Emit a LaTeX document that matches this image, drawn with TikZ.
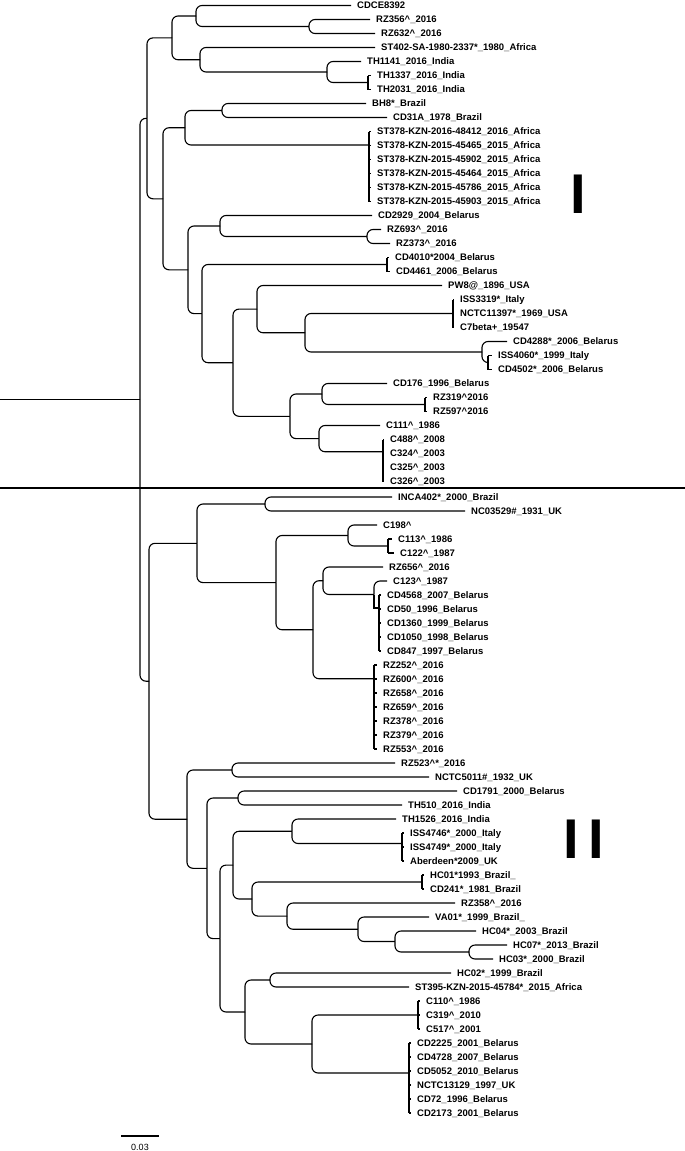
\documentclass[tikz,border=0pt]{standalone}
\usepackage{fontspec}
\setmainfont{Liberation Sans}
\usetikzlibrary{calc}
\newcommand{\caret}{\textasciicircum}
\tikzset{
	br/.style={line width=1.1pt, rounded corners=6pt},
	tw/.style={line width=1.1pt},
	tip/.style={anchor=west, inner xsep=6pt, inner ysep=0pt, text height=7.3pt, text depth=0.5pt,
		font=\fontsize{9.5}{10}\selectfont\bfseries},
	clade/.style={inner sep=0pt, text height=40pt, text depth=0pt, font=\fontsize{56}{56}\selectfont\bfseries}
}
\begin{document}
\begin{tikzpicture}[x=1pt, y=-1pt]
	\useasboundingbox (0,0) rectangle (685,1151);
	% leaves of clade I
	\foreach \nm/\xe/\lab [count=\i from 0] in {
		cdce/351/CDCE8392, rz356/370/RZ356\caret\_2016, rz632/375/RZ632\caret\_2016,
		st402/375/ST402-SA-1980-2337*\_1980\_Africa, th1141/361/TH1141\_2016\_India,
		th1337/371/TH1337\_2016\_India, th2031/371/TH2031\_2016\_India,
		bh8/366/BH8*\_Brazil, cd31a/387/CD31A\_1978\_Brazil,
		st48412/371/ST378-KZN-2016-48412\_2016\_Africa, st45465/371/ST378-KZN-2015-45465\_2015\_Africa,
		st45902/371/ST378-KZN-2015-45902\_2015\_Africa, st45464/371/ST378-KZN-2015-45464\_2015\_Africa,
		st45786/371/ST378-KZN-2015-45786\_2015\_Africa, st45903/371/ST378-KZN-2015-45903\_2015\_Africa,
		cd2929/372/CD2929\_2004\_Belarus, rz693/381/RZ693\caret\_2016, rz373/390/RZ373\caret\_2016,
		cd4010/389/CD4010*2004\_Belarus, cd4461/390/CD4461\_2006\_Belarus,
		pw8/442/PW8@\_1896\_USA, iss3319/454/ISS3319*\_Italy, nctc11397/454/NCTC11397*\_1969\_USA,
		c7beta/454/C7beta+\_19547, cd4288/507/CD4288*\_2006\_Belarus,
		iss4060/492/ISS4060*\_1999\_Italy, cd4502/492/CD4502*\_2006\_Belarus,
		cd176/387/CD176\_1996\_Belarus, rz319/427/RZ319\caret2016, rz597/427/RZ597\caret2016,
		c111/380/C111\caret\_1986, c488/384/C488\caret\_2008, c324/384/C324\caret\_2003,
		c325/384/C325\caret\_2003, c326/384/C326\caret\_2003}
		\node[tip] (\nm) at (\xe,{5.5+14*\i}) {\lab};
	% leaves of clade II
	\foreach \nm/\xe/\lab [count=\i from 0] in {
		inca402/392/INCA402*\_2000\_Brazil, nc03529/465/NC03529\#\_1931\_UK,
		c198/377/C198\caret, c113/392/C113\caret\_1986, c122/394/C122\caret\_1987,
		rz656/383/RZ656\caret\_2016, c123/387/C123\caret\_1987,
		cd4568/381/CD4568\_2007\_Belarus, cd50/381/CD50\_1996\_Belarus, cd1360/381/CD1360\_1999\_Belarus,
		cd1050/381/CD1050\_1998\_Belarus, cd847/381/CD847\_1997\_Belarus,
		rz252/377/RZ252\caret\_2016, rz600/377/RZ600\caret\_2016, rz658/377/RZ658\caret\_2016,
		rz659/377/RZ659\caret\_2016, rz378/377/RZ378\caret\_2016, rz379/377/RZ379\caret\_2016,
		rz553/377/RZ553\caret\_2016, rz523/395/RZ523\caret*\_2016, nctc5011/429/NCTC5011\#\_1932\_UK,
		cd1791/457/CD1791\_2000\_Belarus, th510/402/TH510\_2016\_India, th1526/396/TH1526\_2016\_India,
		iss4746/404/ISS4746*\_2000\_Italy, iss4749/404/ISS4749*\_2000\_Italy, aberdeen/404/Aberdeen*2009\_UK,
		hc01/424/HC01*1993\_Brazil\_, cd241/424/CD241*\_1981\_Brazil, rz358/455/RZ358\caret\_2016,
		va01/429/VA01*\_1999\_Brazil\_, hc04/476/HC04*\_2003\_Brazil, hc07/507/HC07*\_2013\_Brazil,
		hc03/493/HC03*\_2000\_Brazil, hc02/451/HC02*\_1999\_Brazil,
		st395/409/ST395-KZN-2015-45784*\_2015\_Africa,
		c110/420/C110\caret\_1986, c319/420/C319\caret\_2010, c517/420/C517\caret\_2001,
		cd2225/411/CD2225\_2001\_Belarus, cd4728/411/CD4728\_2007\_Belarus, cd5052/411/CD5052\_2010\_Belarus,
		nctc13129/411/NCTC13129\_1997\_UK, cd72/411/CD72\_1996\_Belarus, cd2173/411/CD2173\_2001\_Belarus}
		\node[tip] (\nm) at (\xe,{497+14*\i}) {\lab};
	% internal nodes, clade I
	\coordinate (stem) at (0,399.8);
	\coordinate (r0) at (140,399.8);
	\coordinate (p1) at (147,118.3);
	\coordinate (nab) at (172,37.9);
	\coordinate (na) at (196,16);
	\coordinate (nrz) at (309,26.5);
	\coordinate (nb) at (200,59.75);
	\coordinate (nth) at (327,72);
	\coordinate (nth2) at (368,82.5);
	\coordinate (p2) at (163,198.8);
	\coordinate (nx) at (185,127.75);
	\coordinate (nbc) at (222,110.5);
	\coordinate (nst) at (369,145);
	\coordinate (ny) at (188,269.8);
	\coordinate (ncd) at (220,226);
	\coordinate (nrz2) at (367,236.5);
	\coordinate (nz) at (202,313.6);
	\coordinate (ncd2) at (387,264.5);
	\coordinate (nw) at (233,362.7);
	\coordinate (nv1) at (257,309.1);
	\coordinate (nv1b) at (305,332.75);
	\coordinate (nis) at (453,313.5);
	\coordinate (ncd3) at (482,352);
	\coordinate (niss) at (488,362.5);
	\coordinate (nv2) at (290,416.3);
	\coordinate (nv2a) at (322,394);
	\coordinate (nrz3) at (425,404.5);
	\coordinate (nv2b) at (319,438.6);
	\coordinate (nc488) at (383,451.75);
	% internal nodes, clade II
	\coordinate (q) at (149,681.2);
	\coordinate (qa) at (197,543.3);
	\coordinate (ninc) at (265,504);
	\coordinate (qa2) at (276,582.6);
	\coordinate (nc198) at (348,535.5);
	\coordinate (nc113) at (388,546);
	\coordinate (qa3) at (313,629.75);
	\coordinate (qa4) at (323,580.75);
	\coordinate (nc123) at (374,594.5);
	\coordinate (ncd4568) at (379,608);
	\coordinate (nrz252) at (374,678.75);
	\coordinate (qb) at (187,819.2);
	\coordinate (nrz523) at (232,770);
	\coordinate (q2) at (207,868.3);
	\coordinate (ncd1791) at (238,798);
	\coordinate (q3) at (220,938.6);
	\coordinate (q4) at (233,865.1);
	\coordinate (nth1526) at (292,831.25);
	\coordinate (niss47) at (402,843.5);
	\coordinate (q6) at (252,899);
	\coordinate (nhc01) at (422,882);
	\coordinate (q7) at (287,916.1);
	\coordinate (q8) at (358,929.25);
	\coordinate (q9) at (395,941.5);
	\coordinate (nhc07) at (469,952);
	\coordinate (q5) at (245,1012);
	\coordinate (nhc02) at (270,980);
	\coordinate (q10) at (312,1044);
	\coordinate (nc110) at (418,1015);
	\coordinate (ncd2225) at (409,1073);
	% branches
	\draw[tw] (stem) -- (r0);
	\foreach \p/\c in {r0/p1, r0/q, p1/nab, p1/p2, nab/na, nab/nb, na/cdce.west, na/nrz,
		nrz/rz356.west, nrz/rz632.west, nb/st402.west, nb/nth, nth/th1141.west, nth/nth2,
		p2/nx, p2/ny, nx/nbc, nx/nst, nbc/bh8.west, nbc/cd31a.west, ny/ncd, ny/nz,
		ncd/cd2929.west, ncd/nrz2, nrz2/rz693.west, nrz2/rz373.west, nz/ncd2, nz/nw,
		nw/nv1, nw/nv2, nv1/pw8.west, nv1/nv1b, nv1b/nis, nv1b/ncd3, ncd3/cd4288.west, ncd3/niss,
		nv2/nv2a, nv2/nv2b, nv2a/cd176.west, nv2a/nrz3, nv2b/c111.west, nv2b/nc488}
		\draw[br] (\p) |- (\c);
	\foreach \p/\c in {q/qa, q/qb, qa/ninc, qa/qa2, ninc/inca402.west, ninc/nc03529.west,
		qa2/nc198, qa2/qa3, nc198/c198.west, nc198/nc113, qa3/qa4, qa3/nrz252,
		qa4/rz656.west, qa4/nc123, nc123/c123.west, qb/nrz523, qb/q2,
		nrz523/rz523.west, nrz523/nctc5011.west, q2/ncd1791, q2/q3,
		ncd1791/cd1791.west, ncd1791/th510.west, q3/q4, q3/q5, q4/nth1526, q4/q6,
		nth1526/th1526.west, nth1526/niss47, q6/nhc01, q6/q7, q7/rz358.west, q7/q8,
		q8/va01.west, q8/q9, q9/hc04.west, q9/nhc07, nhc07/hc07.west, nhc07/hc03.west,
		q5/nhc02, q5/q10, nhc02/hc02.west, nhc02/st395.west, q10/nc110, q10/ncd2225}
		\draw[br] (\p) |- (\c);
	\draw[tw] (nc123) |- (ncd4568);
	% near-zero branches, drawn as combs
	\foreach \g/\a/\b in {nth2/th1337/th2031, nst/st48412/st45903, ncd2/cd4010/cd4461,
		nis/iss3319/c7beta, niss/iss4060/cd4502, nrz3/rz319/rz597, nc488/c488/c326,
		nc113/c113/c122, ncd4568/cd4568/cd847, nrz252/rz252/rz553, niss47/iss4746/aberdeen,
		nhc01/hc01/cd241, nc110/c110/c517, ncd2225/cd2225/cd2173}
		\draw[tw] (\a.west -| \g) -- (\b.west -| \g);
	\foreach \g/\c in {nth2/th1337, nth2/th2031, nst/st48412, nst/st45465, nst/st45902,
		nst/st45464, nst/st45786, nst/st45903, ncd2/cd4010, ncd2/cd4461, nis/iss3319,
		nis/nctc11397, nis/c7beta, niss/iss4060, niss/cd4502, nrz3/rz319, nrz3/rz597,
		nc488/c488, nc488/c324, nc488/c325, nc488/c326, nc113/c113, nc113/c122,
		ncd4568/cd4568, ncd4568/cd50, ncd4568/cd1360, ncd4568/cd1050, ncd4568/cd847,
		nrz252/rz252, nrz252/rz600, nrz252/rz658, nrz252/rz659, nrz252/rz378, nrz252/rz379,
		nrz252/rz553, niss47/iss4746, niss47/iss4749, niss47/aberdeen, nhc01/hc01, nhc01/cd241,
		nc110/c110, nc110/c319, nc110/c517, ncd2225/cd2225, ncd2225/cd4728, ncd2225/cd5052,
		ncd2225/nctc13129, ncd2225/cd72, ncd2225/cd2173}
		\draw[tw] (\c.west -| \g) -- (\c.west);
	% clade divider and labels
	\coordinate (sepL) at (0,488);
	\coordinate (sepR) at (685,488);
	\draw[line width=1.6pt] (sepL) -- (sepR);
	\node[clade] (cladeI) at (578,193) {I};
	\node[clade] (cladeII) at (584,838) {I\kern9pt I};
	% scale bar
	\coordinate (sbL) at (121,1136);
	\coordinate (sbR) at (159,1136);
	\draw[tw] (sbL) -- (sbR);
	\node[font=\fontsize{9}{10}\selectfont, inner sep=0pt] (sblab) at (140,1147) {0.03};
\end{tikzpicture}
\end{document}
